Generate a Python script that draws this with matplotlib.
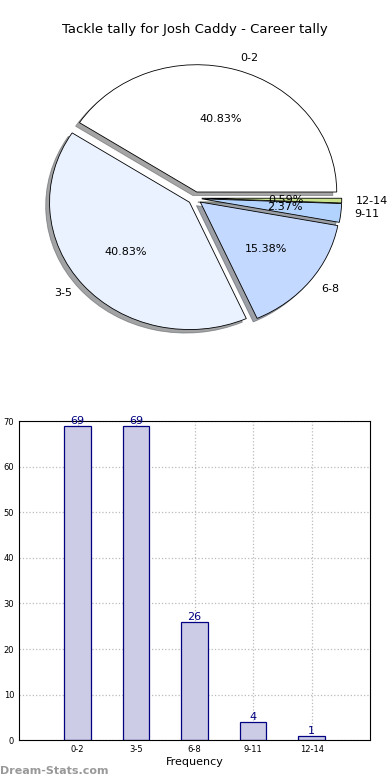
import numpy as np
import matplotlib
matplotlib.use('Agg')
import matplotlib.pyplot as plt

TITLE = 'Tackle tally for Josh Caddy - Career tally'
categories = ['0-2', '3-5', '6-8', '9-11', '12-14']
counts = [69, 69, 26, 4, 1]
slice_colors = ['#ffffff', '#eaf2ff', '#c4d9ff', '#b3d3ff', '#c9e38c']

fig = plt.figure(figsize=(3.9, 7.8), dpi=100)

# pie chart (top)
ax_pie = fig.add_axes([0.051, 0.542, 0.897, 0.408])
wedges, texts, autotexts = ax_pie.pie(
    counts, labels=categories, colors=slice_colors, autopct='%1.2f%%',
    explode=[0.05] * len(counts), shadow=True, startangle=0,
    wedgeprops={'edgecolor': 'black', 'linewidth': 0.6},
    textprops={'fontsize': 8})
ax_pie.set_aspect('auto')
ax_pie.set_xlim(-1.25, 1.25)
ax_pie.set_ylim(-1.25, 1.25)
fig.text(0.5, 0.962, TITLE, ha='center', va='center', fontsize=9.5)

# bar chart (bottom)
ax_bar = fig.add_axes([0.049, 0.051, 0.9, 0.409])
x = np.arange(len(categories))
bars = ax_bar.bar(x, counts, width=0.45, color='#cccce6', edgecolor='#000080',
                  linewidth=0.9, zorder=2)
for xi, v in zip(x, counts):
    ax_bar.text(xi, v, str(v), ha='center', va='bottom', color='#000080', fontsize=8)
ax_bar.set_xlim(-1, 5)
ax_bar.set_ylim(0, 70)
ax_bar.set_xticks(x)
ax_bar.set_xticklabels(categories, fontsize=6)
ax_bar.set_yticks(np.arange(0, 71, 10))
ax_bar.tick_params(axis='y', labelsize=6, length=0)
ax_bar.tick_params(axis='x', length=0)
ax_bar.grid(True, linestyle=':', color='#bbbbbb', linewidth=0.9, zorder=0)
ax_bar.set_axisbelow(True)
ax_bar.set_xlabel('Frequency', fontsize=8, labelpad=2)

fig.text(0.0, 0.012, 'Dream-Stats.com', color='#999999', fontsize=8,
         fontweight='bold', ha='left', va='center')

fig.savefig('out.png', dpi=100)
